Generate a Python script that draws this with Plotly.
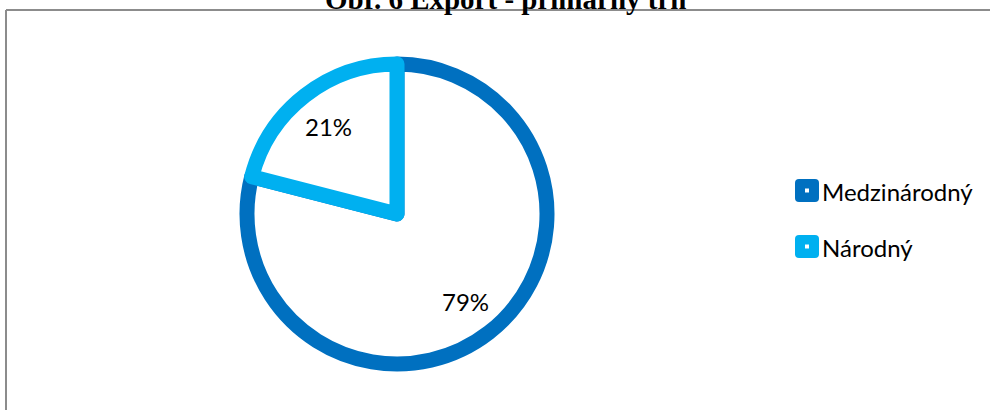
import math
import plotly.graph_objects as go

# Export by primary market
markets = ["Medzinárodný", "Národný"]
shares = [79, 21]
colors = ["#0070C0", "#00B0F0"]
title_text = "Obr. 6 Export - primárny trh"

W, H = 990, 410


def px(x):
    return x / W


def py(y):
    return 1 - y / H


fig = go.Figure()

# pie centre and radius in pixels
cx, cy, r = 397, 214, 150
fig.add_trace(go.Pie(
    labels=markets,
    values=shares,
    sort=False,
    direction="clockwise",
    rotation=0,
    marker=dict(colors=["white", "white"], line=dict(color=colors, width=15)),
    textinfo="none",
    hoverinfo="label+percent",
    showlegend=False,
    domain=dict(x=[px(cx - r), px(cx + r)], y=[py(cy + r), py(cy - r)]),
))

shapes = [
    # chart-area frame (top and left edges)
    dict(type="line", xref="paper", yref="paper", x0=px(6), x1=1.01, y0=py(10), y1=py(10),
         line=dict(color="#8C8C8C", width=2)),
    dict(type="line", xref="paper", yref="paper", x0=px(6), x1=px(6), y0=py(10), y1=-0.01,
         line=dict(color="#8C8C8C", width=2)),
]

annotations = [
    dict(text=f"<b>{title_text}</b>", xref="paper", yref="paper", x=px(506), y=py(-1),
         xanchor="center", yanchor="middle", showarrow=False,
         font=dict(family="Liberation Serif", size=29, color="black")),
]

# percentage labels placed along each slice's middle angle (clockwise from 12 o'clock)
total = sum(shares)
start = 0.0
for v in shares:
    mid = (start + v / 2) / total * 2 * math.pi
    start += v
    lr = 0.74 * r
    lx = cx + lr * math.sin(mid)
    ly = cy - lr * math.cos(mid)
    annotations.append(dict(text=f"{round(v / total * 100)}%", xref="paper", yref="paper",
                            x=px(lx), y=py(ly), xanchor="center", yanchor="middle",
                            showarrow=False, font=dict(family="Lato", size=24, color="black")))

legend_y = [191, 247]
for name, col, ly in zip(markets, colors, legend_y):
    x0, x1 = 795, 819
    y0, y1 = ly - 12, ly + 11
    k = 4  # corner radius
    path = (f"M {px(x0 + k)},{py(y0)} L {px(x1 - k)},{py(y0)} Q {px(x1)},{py(y0)} {px(x1)},{py(y0 + k)} "
            f"L {px(x1)},{py(y1 - k)} Q {px(x1)},{py(y1)} {px(x1 - k)},{py(y1)} "
            f"L {px(x0 + k)},{py(y1)} Q {px(x0)},{py(y1)} {px(x0)},{py(y1 - k)} "
            f"L {px(x0)},{py(y0 + k)} Q {px(x0)},{py(y0)} {px(x0 + k)},{py(y0)} Z")
    shapes.append(dict(type="path", xref="paper", yref="paper", path=path,
                       fillcolor=col, line=dict(width=0)))
    shapes.append(dict(type="rect", xref="paper", yref="paper",
                       x0=px(805), x1=px(809), y0=py(ly + 1.5), y1=py(ly - 2.5),
                       fillcolor="white", line=dict(width=0)))
    annotations.append(dict(text=name, xref="paper", yref="paper", x=px(820), y=py(ly),
                            xanchor="left", yanchor="middle", showarrow=False,
                            font=dict(family="Lato", size=24, color="black")))

fig.update_layout(
    width=W, height=H,
    margin=dict(l=0, r=0, t=0, b=0),
    paper_bgcolor="white",
    plot_bgcolor="white",
    shapes=shapes,
    annotations=annotations,
    showlegend=False,
)

fig.write_html("out.html")
